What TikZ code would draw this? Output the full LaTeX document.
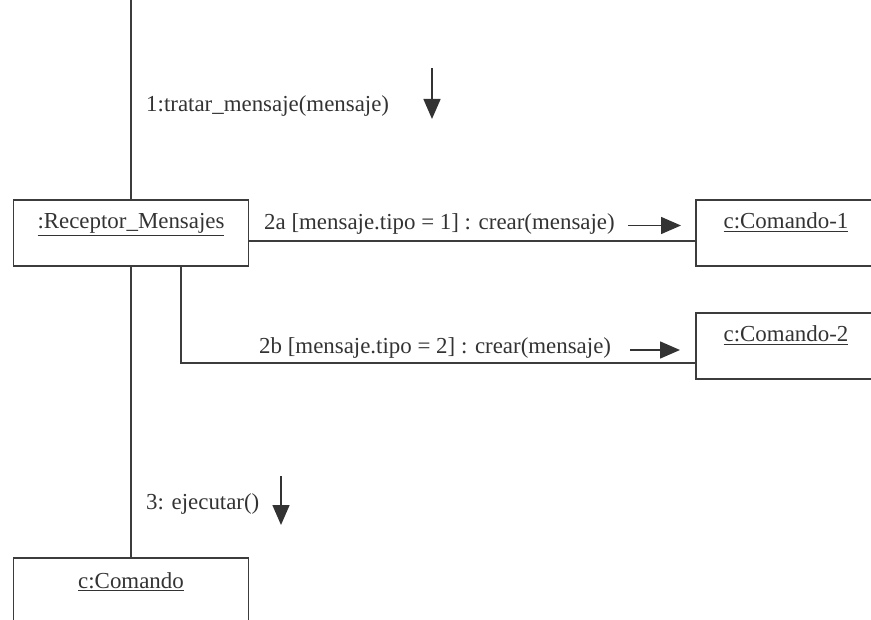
\documentclass[tikz,border=0pt]{standalone}
\usepackage{fontspec}
\setmainfont{Liberation Serif}
\usetikzlibrary{arrows.meta}
\definecolor{ink}{HTML}{333333}
\definecolor{wire}{HTML}{3C3C3C}
\begin{document}
\begin{tikzpicture}[x=1pt,y=-1pt,
  obj/.style={draw=wire,line width=1.8pt,minimum width=235pt,minimum height=66pt,inner sep=0pt},
  lbl/.style={inner sep=0pt,text=ink,font=\fontsize{22.9}{28}\selectfont},
  link/.style={draw=wire,line width=2pt},
  msg/.style={draw=ink,line width=1.5pt,-{Triangle[length=20pt,width=17pt]}}
]
\useasboundingbox (0,0) rectangle (871,620);
\clip (0,0) rectangle (871,620);

% objects
\node[obj] (rec) at (131,233) {};
\node[obj,minimum width=204pt] (cmdA) at (798,233) {};
\node[obj,minimum width=204pt] (cmdB) at (798,346) {};
\node[obj,minimum height=82pt] (cmd) at (131,599) {};

% object names
\node[lbl,anchor=base] (recname) at (131,229) {\underline{:Receptor\_Mensajes}};
\node[lbl,anchor=base] (cmdAname) at (786,229) {\underline{c:Comando-1}};
\node[lbl,anchor=base] (cmdBname) at (786,342) {\underline{c:Comando-2}};
\node[lbl,anchor=base] (cmdname) at (131,588) {\underline{c:Comando}};

% links
\coordinate (entry) at (131,0);
\draw[link] (entry) -- (rec.north);
\draw[link] (rec.south) -- (cmd.north);
\draw[link] ([yshift=-8.5pt]rec.east) -- ([yshift=-8.5pt]cmdA.west);
\draw[link] ([xshift=50pt]rec.south) |- ([yshift=-17pt]cmdB.west);

% messages
\node[lbl,anchor=base west] (m1) at (146,112) {1:tratar\_mensaje(mensaje)};
\coordinate (m1s) at (432,68);
\coordinate (m1e) at (432,119);
\draw[msg] (m1s) -- (m1e);

\node[lbl,anchor=base west] (m2a) at (264,230) {2a [mensaje.tipo = 1] : crear(mensaje)};
\coordinate (m2as) at (628,225.5);
\coordinate (m2ae) at (681,225.5);
\draw[msg] (m2as) -- (m2ae);

\node[lbl,anchor=base west] (m2b) at (259,354) {2b [mensaje.tipo = 2] : crear(mensaje)};
\coordinate (m2bs) at (630,350);
\coordinate (m2be) at (680,350);
\draw[msg] (m2bs) -- (m2be);

\node[lbl,anchor=base west] (m3) at (146,510) {3: ejecutar()};
\coordinate (m3s) at (281,476);
\coordinate (m3e) at (281,525);
\draw[msg] (m3s) -- (m3e);
\end{tikzpicture}
\end{document}
